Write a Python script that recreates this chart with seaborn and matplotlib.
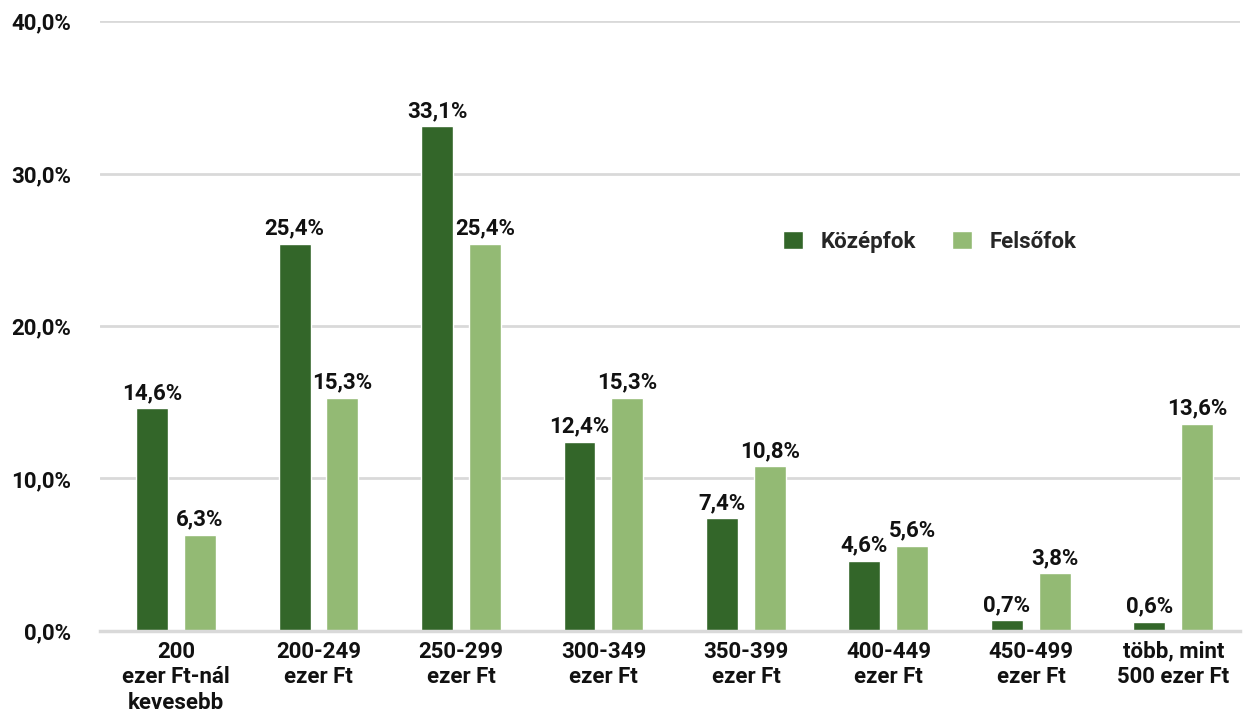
import pandas as pd
import numpy as np
import seaborn as sns
import matplotlib.pyplot as plt

categories = ['200\nezer Ft-nál\nkevesebb', '200-249\nezer Ft', '250-299\nezer Ft', '300-349\nezer Ft',
              '350-399\nezer Ft', '400-449\nezer Ft', '450-499\nezer Ft', 'több, mint\n500 ezer Ft']
kozepfok = [14.6, 25.4, 33.1, 12.4, 7.4, 4.6, 0.7, 0.6]
felsofok = [6.3, 15.3, 25.4, 15.3, 10.8, 5.6, 3.8, 13.6]
series = ['Középfok', 'Felsőfok']

df = pd.DataFrame({
    'Kategória': categories * 2,
    'Arány': kozepfok + felsofok,
    'Végzettség': [series[0]] * len(categories) + [series[1]] * len(categories),
})

sns.set_style('white')
plt.rcParams['font.family'] = ['Roboto', 'DejaVu Sans']
plt.rcParams['font.weight'] = 'bold'

fig = plt.figure(figsize=(12.43, 7.15), dpi=100)
ax = fig.add_axes([0.0805, 0.1175, 0.917, 0.8531])

sns.barplot(data=df, x='Kategória', y='Arány', hue='Végzettség',
            palette=['#336629', '#93BA74'], width=0.672, gap=0.333,
            saturation=1, ax=ax)

for cont in ax.containers:
    ax.bar_label(cont, labels=[f'{v:.1f}%'.replace('.', ',') for v in cont.datavalues],
                 padding=3, fontsize=16, fontweight='bold', color='#111111')

ax.set_ylim(0, 40)
ax.set_xlim(-0.533, 7.467)
ax.set_yticks([0, 10, 20, 30, 40])
ax.set_yticklabels([f'{t:.1f}%'.replace('.', ',') for t in [0, 10, 20, 30, 40]])
ax.yaxis.grid(True, color='#D9D9D9', linewidth=2)
ax.set_axisbelow(True)
for s in ['top', 'right', 'left']:
    ax.spines[s].set_visible(False)
ax.spines['bottom'].set_color('#D9D9D9')
ax.spines['bottom'].set_linewidth(2.5)
ax.tick_params(axis='y', length=0, pad=21, labelsize=16, labelcolor='#111111')
ax.tick_params(axis='x', length=0, pad=7, labelsize=16, labelcolor='#111111')
for lab in ax.get_xticklabels() + ax.get_yticklabels():
    lab.set_fontweight('bold')
for lab in ax.get_xticklabels():
    lab.set_linespacing(1.2)
ax.set_xlabel('')
ax.set_ylabel('')

ax.legend(title=None, frameon=False, loc='center', bbox_to_anchor=(0.728, 0.638),
          ncol=2, fontsize=16, handlelength=0.9, handleheight=0.9, columnspacing=1.6,
          handletextpad=0.8)

plt.savefig('out.png', dpi=100)
